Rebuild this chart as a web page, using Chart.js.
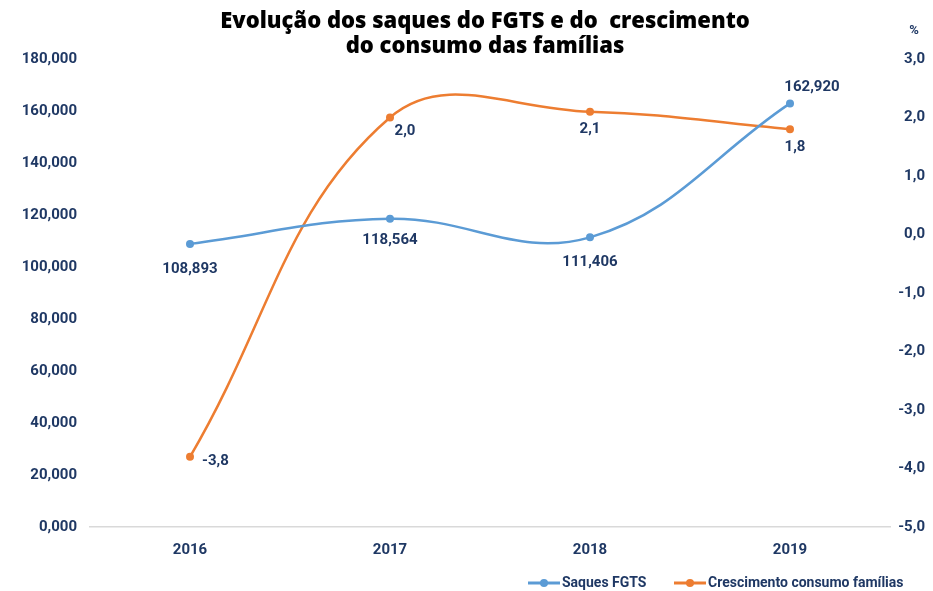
<!DOCTYPE html>
<html><head><meta charset="utf-8">
<script src="https://cdn.jsdelivr.net/npm/chart.js@4/dist/chart.umd.min.js"></script>
<style>html,body{margin:0;padding:0;background:#fff}#wrap{width:933px;height:591px;position:relative}</style>
</head><body><div id="wrap"><canvas id="c" width="933" height="591"></canvas></div>
<script>
const categories = ['2016', '2017', '2018', '2019'];
const saquesFGTS = [108893, 118564, 111406, 162920];
const consumoFamilias = [-3.8, 2.0, 2.1, 1.8];
const saquesLabels = ['108,893', '118,564', '111,406', '162,920'];
const consumoLabels = ['-3,8', '2,0', '2,1', '1,8'];
const seriesNames = ['Saques FGTS', 'Crescimento consumo famílias'];
const titleLines = ['Evolução dos saques do FGTS e do  crescimento', 'do consumo das famílias'];

const NAVY = '#1F3864';
const BLUE = '#5B9BD5';
const ORANGE = '#ED7D31';
const NARROW = "'Liberation Sans Narrow','Arial Narrow',Roboto,sans-serif";

const labelOffsets = [
  [[0, 25, 'center'], [0, 22, 'center'], [0, 25, 'center'], [22, -16, 'center']],
  [[12, 4, 'left'], [15, 14, 'center'], [0, 18, 'center'], [5, 18, 'center']]
];

const decor = {
  id: 'decor',
  afterDatasetsDraw(chart) {
    const ctx = chart.ctx;
    ctx.save();
    ctx.fillStyle = NAVY;
    ctx.font = 'bold 15px ' + NARROW;
    ctx.textBaseline = 'middle';
    const texts = [saquesLabels, consumoLabels];
    chart.data.datasets.forEach((ds, di) => {
      const meta = chart.getDatasetMeta(di);
      meta.data.forEach((pt, i) => {
        const o = labelOffsets[di][i];
        ctx.textAlign = o[2];
        ctx.fillText(texts[di][i], pt.x + o[0], pt.y + o[1]);
      });
    });
    // title
    ctx.fillStyle = '#000';
    ctx.textAlign = 'center';
    ctx.font = "800 22px 'Open Sans',sans-serif";
    ctx.fillText(titleLines[0], 485, 22);
    ctx.fillText(titleLines[1], 485, 47);
    // % label
    ctx.fillStyle = NAVY;
    ctx.font = 'bold 13px ' + NARROW;
    ctx.fillText('%', 914, 31);
    // legend
    const ly = 583;
    const items = [[528, BLUE, seriesNames[0]], [674, ORANGE, seriesNames[1]]];
    items.forEach(([x, col, name]) => {
      ctx.strokeStyle = col; ctx.lineWidth = 3;
      ctx.beginPath(); ctx.moveTo(x, ly); ctx.lineTo(x + 32, ly); ctx.stroke();
      ctx.fillStyle = col;
      ctx.beginPath(); ctx.arc(x + 16, ly, 4, 0, Math.PI * 2); ctx.fill();
      ctx.fillStyle = NAVY;
      ctx.font = 'bold 14px ' + NARROW;
      ctx.textAlign = 'left';
      ctx.fillText(name, x + 34, ly);
    });
    ctx.restore();
  }
};

new Chart(document.getElementById('c'), {
  type: 'line',
  data: {
    labels: categories,
    datasets: [
      { label: seriesNames[0], data: saquesFGTS, yAxisID: 'y', borderColor: BLUE, backgroundColor: BLUE,
        borderWidth: 2.5, pointRadius: 4, pointBackgroundColor: BLUE, pointBorderWidth: 0, tension: 0.4 },
      { label: seriesNames[1], data: consumoFamilias, yAxisID: 'y1', borderColor: ORANGE, backgroundColor: ORANGE,
        borderWidth: 2.5, pointRadius: 4, pointBackgroundColor: ORANGE, pointBorderWidth: 0, tension: 0.4 }
    ]
  },
  options: {
    responsive: false,
    animation: false,
    layout: { padding: { top: 59, bottom: 0, left: 0, right: 8 } },
    plugins: { legend: { display: false }, title: { display: false }, tooltip: { enabled: false } },
    scales: {
      x: {
        offset: true,
        grid: { display: false, drawTicks: false },
        border: { display: true, color: '#D9D9D9', width: 1.5 },
        ticks: { color: NAVY, font: { family: NARROW, size: 15, weight: 'bold' }, padding: 14 },
        afterFit(s) { s.height = 64; }
      },
      y: {
        position: 'left', min: 0, max: 180000,
        grid: { display: false, drawTicks: false }, border: { display: false },
        ticks: { stepSize: 20000, color: NAVY, padding: 13, font: { family: NARROW, size: 15, weight: 'bold' },
          callback: v => v === 0 ? '0,000' : v.toLocaleString('en-US') },
        afterFit(s) { s.width = 90; }
      },
      y1: {
        position: 'right', min: -5, max: 3,
        grid: { display: false, drawTicks: false }, border: { display: false },
        ticks: { stepSize: 1, color: NAVY, padding: 10, crossAlign: 'far', font: { family: NARROW, size: 15, weight: 'bold' },
          callback: v => v.toFixed(1).replace('.', ',') },
        afterFit(s) { s.width = 35; }
      }
    }
  },
  plugins: [decor]
});
</script></body></html>
